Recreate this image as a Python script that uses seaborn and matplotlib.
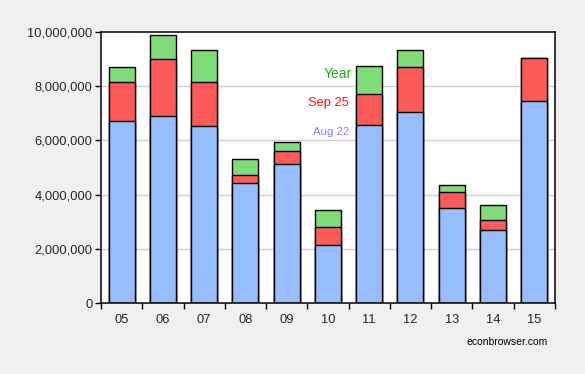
import matplotlib
matplotlib.use("Agg")
import matplotlib.pyplot as plt
import matplotlib.ticker as mticker
import pandas as pd
import seaborn as sns

# cumulative levels
years = ["05", "06", "07", "08", "09", "10", "11", "12", "13", "14", "15"]
aug22 = [6.71e6, 6.89e6, 6.52e6, 4.43e6, 5.13e6, 2.13e6, 6.56e6, 7.04e6, 3.49e6, 2.68e6, 7.46e6]
sep25 = [8.15e6, 9.00e6, 8.15e6, 4.73e6, 5.60e6, 2.81e6, 7.70e6, 8.70e6, 4.08e6, 3.06e6, 9.05e6]
full_year = [8.70e6, 9.90e6, 9.33e6, 5.30e6, 5.93e6, 3.43e6, 8.74e6, 9.33e6, 4.36e6, 3.62e6, 9.05e6]

df = pd.DataFrame({"year": years, "aug22": aug22, "sep25": sep25, "full": full_year})

sns.set_style("white")
plt.rcParams["font.family"] = ["Liberation Sans", "DejaVu Sans"]

fig = plt.figure(figsize=(5.85, 3.74), dpi=100, facecolor="#f0f0f0")
ax = fig.add_axes([0.1726, 0.1898, 0.776, 0.7246])
ax.set_facecolor("white")

# grid first so bars sit on top
for v in [2e6, 4e6, 6e6, 8e6]:
    ax.axhline(v, color="#d0d0d0", lw=1, zorder=0)

# stacked look: draw the totals first, then overlay the smaller levels
layers = [("full", "#80dc78"), ("sep25", "#ff5a5a"), ("aug22", "#96beff")]
for col, c in layers:
    sns.barplot(data=df, x="year", y=col, color=c, width=0.63,
                edgecolor="black", linewidth=1.0, saturation=1, ax=ax, zorder=2)

ax.set_xlim(-0.5, 10.5)
ax.set_ylim(0, 1.0e7)
ax.set_xlabel("")
ax.set_ylabel("")

ax.yaxis.set_major_locator(mticker.MultipleLocator(2e6))
ax.yaxis.set_major_formatter(mticker.FuncFormatter(lambda v, p: f"{int(v):,}"))
ax.tick_params(axis="y", direction="out", length=4, width=1, color="black",
               labelsize=9.3, pad=2, left=True)

ax.set_xticks(range(len(years)))
ax.set_xticklabels(years)
ax.set_xticks([i - 0.5 for i in range(len(years) + 1)], minor=True)
ax.tick_params(axis="x", which="major", length=0, labelsize=9.3, pad=8)
ax.tick_params(axis="x", which="minor", direction="out", length=4, width=1,
               color="black", bottom=True)

for s in ax.spines.values():
    s.set_visible(True)
    s.set_color("black")
    s.set_linewidth(1.1)

# in-plot labels
ax.text(0.552, 0.845, "Year", transform=ax.transAxes, ha="right", va="center",
        color="#10b010", fontsize=10)
ax.text(0.547, 0.738, "Sep 25", transform=ax.transAxes, ha="right", va="center",
        color="#ff1010", fontsize=9.3)
ax.text(0.547, 0.632, "Aug 22", transform=ax.transAxes, ha="right", va="center",
        color="#8080ff", fontsize=8.2)

fig.text(0.937, 0.085, "econbrowser.com", ha="right", va="center", fontsize=7.5,
         color="black")

fig.savefig("out.png", dpi=100, facecolor=fig.get_facecolor())
